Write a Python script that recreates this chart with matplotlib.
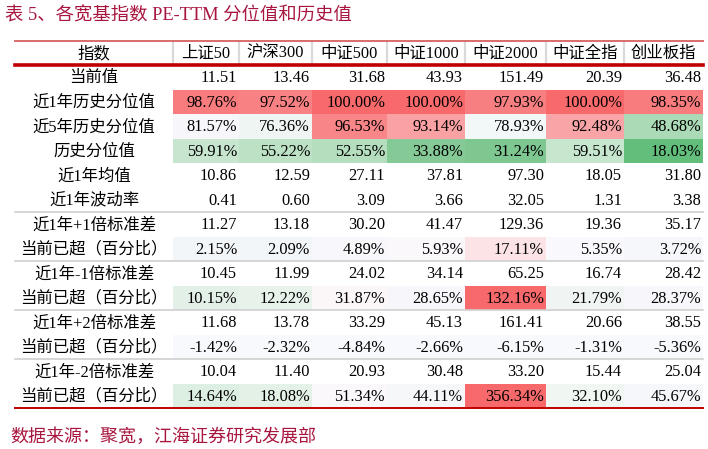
import matplotlib
matplotlib.use("Agg")
import matplotlib.pyplot as plt
from matplotlib.patches import Rectangle

FAM = ['Liberation Serif', 'Noto Sans CJK SC', 'DejaVu Sans']
plt.rcParams['font.family'] = FAM

title = "表 5、各宽基指数 PE-TTM 分位值和历史值"
source = "数据来源：聚宽，江海证券研究发展部"
header_label = "指数"
columns = ["上证50", "沪深300", "中证500", "中证1000", "中证2000", "中证全指", "创业板指"]
row_labels = ["当前值", "近1年历史分位值", "近5年历史分位值", "历史分位值", "近1年均值", "近1年波动率",
              "近1年+1倍标准差", "当前已超（百分比）", "近1年-1倍标准差", "当前已超（百分比）",
              "近1年+2倍标准差", "当前已超（百分比）", "近1年-2倍标准差", "当前已超（百分比）"]
current = [11.51, 13.46, 31.68, 43.93, 151.49, 20.39, 36.48]
pct_1y = [98.76, 97.52, 100.00, 100.00, 97.93, 100.00, 98.35]
pct_5y = [81.57, 76.36, 96.53, 93.14, 78.93, 92.48, 48.68]
pct_all = [59.91, 55.22, 52.55, 33.88, 31.24, 59.51, 18.03]
mean_1y = [10.86, 12.59, 27.11, 37.81, 97.30, 18.05, 31.80]
vol_1y = [0.41, 0.60, 3.09, 3.66, 32.05, 1.31, 3.38]
plus1 = [11.27, 13.18, 30.20, 41.47, 129.36, 19.36, 35.17]
over_plus1 = [2.15, 2.09, 4.89, 5.93, 17.11, 5.35, 3.72]
minus1 = [10.45, 11.99, 24.02, 34.14, 65.25, 16.74, 28.42]
over_minus1 = [10.15, 12.22, 31.87, 28.65, 132.16, 21.79, 28.37]
plus2 = [11.68, 13.78, 33.29, 45.13, 161.41, 20.66, 38.55]
over_plus2 = [-1.42, -2.32, -4.84, -2.66, -6.15, -1.31, -5.36]
minus2 = [10.04, 11.40, 20.93, 30.48, 33.20, 15.44, 25.04]
over_minus2 = [14.64, 18.08, 51.34, 44.11, 356.34, 32.10, 45.67]

rows = [current, pct_1y, pct_5y, pct_all, mean_1y, vol_1y, plus1, over_plus1,
        minus1, over_minus1, plus2, over_plus2, minus2, over_minus2]
is_pct = [False, True, True, True, False, False, False, True, False, True, False, True, False, True]

# cell fill styles (conditional-format colours)
fills = {
    1: ["#F87B7D", "#F88183", "#F8696B", "#F8696B", "#F87F81", "#F8696B", "#F87C7E"],
    2: ["#F7F7FB", "#EEF5F3", "#F88587", "#F9A1A3", "#F2F7F7", "#F9A5A7", "#ABDAB6"],
    3: ["#C8E6CF", "#BCE1C5", "#B5DEBF", "#85CA96", "#7FC791", "#C7E6CE", "#63BE7B"],
    7: ["#F3F6F9", "#F3F6F9", "#F8F8FC", "#FAF8FB", "#FCE4E6", "#F9F8FC", "#F6F7FA"],
    9: ["#E3F0E8", "#E6F2EA", "#FBF6F8", "#F7F7FB", "#F8696B", "#F0F5F3", "#F7F7FB"],
    11: ["#F8F9FC"] * 7,
    13: ["#DDEFE3", "#E3F1E7", "#FAF8FB", "#F5F7F9", "#F8696B", "#F0F6F2", "#F6F7FA"],
}

fig = plt.figure(figsize=(7.08, 4.49), dpi=100)
ax = fig.add_axes([0, 0, 1, 1])
ax.set_xlim(0, 708)
ax.set_ylim(449, 0)
ax.axis('off')

xs = [15, 173, 239, 312, 387, 465, 546, 624, 703]
y_top, y_head = 41, 65
rh = (408 - 65) / 14.0
fs = 11.8
crimson = "#A8163F"

ax.text(5, 16, title, color=crimson, fontsize=13.2, va='center', ha='left')

# header
ax.text((xs[0] + xs[1]) / 2, (y_top + y_head) / 2 + 1, header_label, ha='center', va='center', fontsize=fs)
for j, c in enumerate(columns):
    ax.text((xs[j + 1] + xs[j + 2]) / 2, (y_top + y_head) / 2 + 1, c, ha='center', va='center', fontsize=fs)
for x in xs[1:-1]:
    ax.plot([x, x], [y_top + 1, y_head - 1], color="#D9D9D9", lw=1.6)

for i, (lab, vals) in enumerate(zip(row_labels, rows)):
    y0 = y_head + i * rh
    yc = y0 + rh / 2
    ax.text((xs[0] + xs[1]) / 2, yc + 1, lab, ha='center', va='center', fontsize=fs)
    for j, v in enumerate(vals):
        if i in fills:
            ax.add_patch(Rectangle((xs[j + 1], y0), xs[j + 2] - xs[j + 1], rh,
                                   facecolor=fills[i][j], edgecolor='none'))
        s = f"{v:.2f}%" if is_pct[i] else f"{v:.2f}"
        ax.text(xs[j + 2] - 2, yc + 1, s, ha='right', va='center', fontsize=fs)

for k in [6, 8, 10, 12]:
    y = y_head + k * rh
    ax.plot([xs[0], xs[-1]], [y, y], color="#D0D0D0", lw=1.2)

ax.plot([xs[0], xs[-1]], [y_top, y_top], color="#D96B6B", lw=1.4)
ax.plot([xs[0], xs[-1]], [y_head, y_head], color="#C00000", lw=2.6)
ax.plot([xs[0], xs[-1]], [408, 408], color="#C00000", lw=1.4)

ax.text(10, 437, source, color=crimson, fontsize=13, va='center', ha='left')

fig.savefig("out.png", dpi=100)
